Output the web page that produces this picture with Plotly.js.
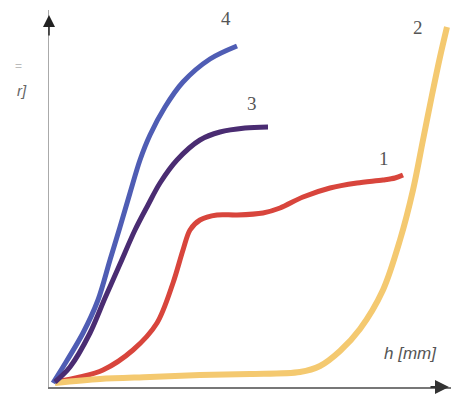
<!DOCTYPE html>
<html>
<head>
<meta charset="utf-8">
<script src="https://cdn.plot.ly/plotly-3.0.1.min.js"></script>
<style>html,body{margin:0;padding:0;background:#fff;}#chart{width:451px;height:394px;}</style>
</head>
<body>
<div id="chart"></div>
<script>
// Curve 1 (red)
const c1x = [6,31,54,84,108,124,134,141,151,168,188,214,231,254,281,308,334,346,354];
const c1y = [5,10,17,37,64,104,137,157,167,172,172,174,179,190,199,204,207,209,212];
// Curve 2 (yellow)
const c2x = [6,51,101,151,201,251,271,291,311,334,351,364,374,383,391,398];
const c2y = [4,8,10,12,13,15,21,36,58,97,147,197,247,292,330,360];
// Curve 3 (dark purple)
const c3x = [6,21,41,56,71,86,99,111,128,151,171,196,219];
const c3y = [5,20,54,89,123,157,182,204,227,247,255,259,260];
// Curve 4 (blue)
const c4x = [4,14,34,49,61,71,81,91,101,116,134,161,188];
const c4y = [4,20,54,87,127,160,194,227,252,280,305,328,341];
const curveLabels = ["1","2","3","4"];
const xLabel = "h [mm]";
const yLabel = "r]";

const mk = (x,y,color,w,name) => ({x:x,y:y,type:'scatter',mode:'lines',name:name,
  line:{color:color,width:w,shape:'spline',smoothing:0.9},cliponaxis:false,hoverinfo:'skip'});

const traces = [
  mk(c1x,c1y,'#d8453c',5,'1'),
  mk(c2x,c2y,'#f4c970',6,'2'),
  mk(c4x,c4y,'#4f5db4',5,'4'),
  mk(c3x,c3y,'#4a2c72',5,'3')
];

const numFont = {family:'Liberation Serif, DejaVu Serif, serif',size:19,color:'#555'};
const layout = {
  width:451,height:394,
  margin:{l:49,r:0,t:10,b:7},
  paper_bgcolor:'#fff',plot_bgcolor:'#fff',
  showlegend:false,
  xaxis:{range:[0,402],showgrid:false,zeroline:false,showticklabels:false,ticks:'',
    showline:true,linecolor:'#777',linewidth:2},
  yaxis:{range:[0,377],showgrid:false,zeroline:false,showticklabels:false,ticks:'',
    showline:true,linecolor:'#aaa',linewidth:1.5},
  annotations:[
    {x:177,y:369,text:curveLabels[3],showarrow:false,font:numFont},
    {x:203,y:284,text:curveLabels[2],showarrow:false,font:numFont},
    {x:335,y:229,text:curveLabels[0],showarrow:false,font:numFont},
    {x:369,y:360,text:curveLabels[1],showarrow:false,font:numFont},
    {x:361,y:34,text:'<i>'+xLabel+'</i>',showarrow:false,
      font:{family:'Liberation Sans, Arial, sans-serif',size:17,color:'#555'}},
    {xref:'paper',yref:'paper',x:-0.085,y:0.815,text:'<i>'+yLabel+'</i>',showarrow:false,
      font:{family:'Liberation Sans, Arial, sans-serif',size:15,color:'#666'}},
    {xref:'paper',yref:'paper',x:-0.09,y:0.875,text:'=',showarrow:false,
      font:{family:'Liberation Sans, Arial, sans-serif',size:12,color:'#bbb'}},
    {x:0,y:372,ax:0,ay:350,axref:'x',ayref:'y',text:'',showarrow:true,
      arrowhead:2,arrowsize:1.6,arrowwidth:1.5,arrowcolor:'#222'},
    {x:400,y:0,ax:380,ay:0,axref:'x',ayref:'y',text:'',showarrow:true,
      arrowhead:2,arrowsize:1.4,arrowwidth:2,arrowcolor:'#333'}
  ]
};
Plotly.newPlot('chart',traces,layout,{displayModeBar:false,staticPlot:true});
</script>
</body>
</html>
